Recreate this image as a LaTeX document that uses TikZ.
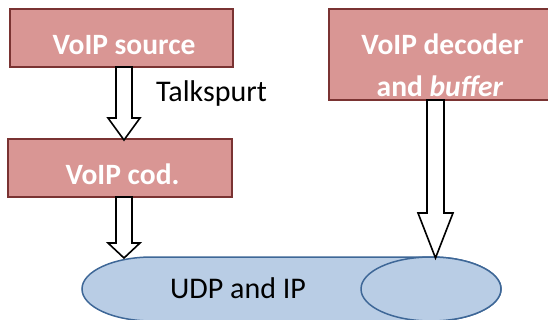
\documentclass[tikz,border=0pt]{standalone}
\usepackage{fontspec}
\setmainfont{Carlito}
\usetikzlibrary{calc}
\definecolor{boxfill}{HTML}{D99694}
\definecolor{boxline}{HTML}{7A3332}
\definecolor{ellfill}{HTML}{B9CDE5}
\definecolor{ellline}{HTML}{3E6797}
\begin{document}
\begin{tikzpicture}[x=1pt,y=-1pt,
  redbox/.style={draw=boxline,fill=boxfill,line width=1.4pt,inner sep=0pt},
  boxtext/.style={text=white,font=\fontsize{29.5}{42}\selectfont\bfseries,anchor=base,inner sep=0pt},
  plaintext/.style={text=black,font=\fontsize{30}{34}\selectfont,anchor=base,inner sep=0pt},
  blockarrow/.style={draw=black,fill=white,line width=1.6pt,line join=miter},
  netshape/.style={draw=ellline,fill=ellfill,line width=1.5pt}]
\useasboundingbox (0,0) rectangle (548,320);
\clip (0,0) rectangle (548,320);
% boxes
\node[redbox,minimum width=223pt,minimum height=58pt] (src) at (121.5,38) {};
\node[redbox,minimum width=224pt,minimum height=58pt] (cod) at (120,168) {};
\node[redbox,minimum width=240pt,minimum height=91pt] (dec) at (449,54.5) {};
\node[boxtext] (srct) at (124,55) {VoIP source};
\node[boxtext] (codt) at (122.5,185) {VoIP cod.};
\node[boxtext] (dect1) at (442.5,55) {VoIP decoder};
\node[boxtext] (dect2) at (440,97) {and \textit{buffer}};
% bottom shape
\coordinate (udpL) at (152,289);
\coordinate (udpR) at (431,289);
\filldraw[netshape] (431,257) -- (152,257)
  arc[start angle=-90,end angle=-270,x radius=70,y radius=32]
  -- (431,321)
  arc[start angle=90,end angle=-90,x radius=70,y radius=32] -- cycle;
\filldraw[netshape] (udpR) ellipse[x radius=70,y radius=32];
\node[plaintext] (udp) at (238,298) {UDP and IP};
% arrows
\coordinate (a1top) at (124,67);
\coordinate (a1tip) at (124,140);
\coordinate (a2top) at (124,197);
\coordinate (a2tip) at (124,258);
\coordinate (a3top) at (435.5,100);
\coordinate (a3tip) at (435.5,258);
\draw[blockarrow] ($(a1top)+(-8,0)$) -- ($(a1top)+(8,0)$) -- ($(a1tip)+(8,-22)$) -- ($(a1tip)+(16,-22)$) -- (a1tip) -- ($(a1tip)+(-16,-22)$) -- ($(a1tip)+(-8,-22)$) -- cycle;
\draw[blockarrow] ($(a2top)+(-8,0)$) -- ($(a2top)+(8,0)$) -- ($(a2tip)+(8,-15)$) -- ($(a2tip)+(16,-15)$) -- (a2tip) -- ($(a2tip)+(-16,-15)$) -- ($(a2tip)+(-8,-15)$) -- cycle;
\draw[blockarrow] ($(a3top)+(-8.5,0)$) -- ($(a3top)+(8.5,0)$) -- ($(a3tip)+(8.5,-45)$) -- ($(a3tip)+(17.5,-45)$) -- (a3tip) -- ($(a3tip)+(-17.5,-45)$) -- ($(a3tip)+(-8.5,-45)$) -- cycle;
\node[plaintext] (talk) at (211.5,102) {Talkspurt};
\end{tikzpicture}
\end{document}
